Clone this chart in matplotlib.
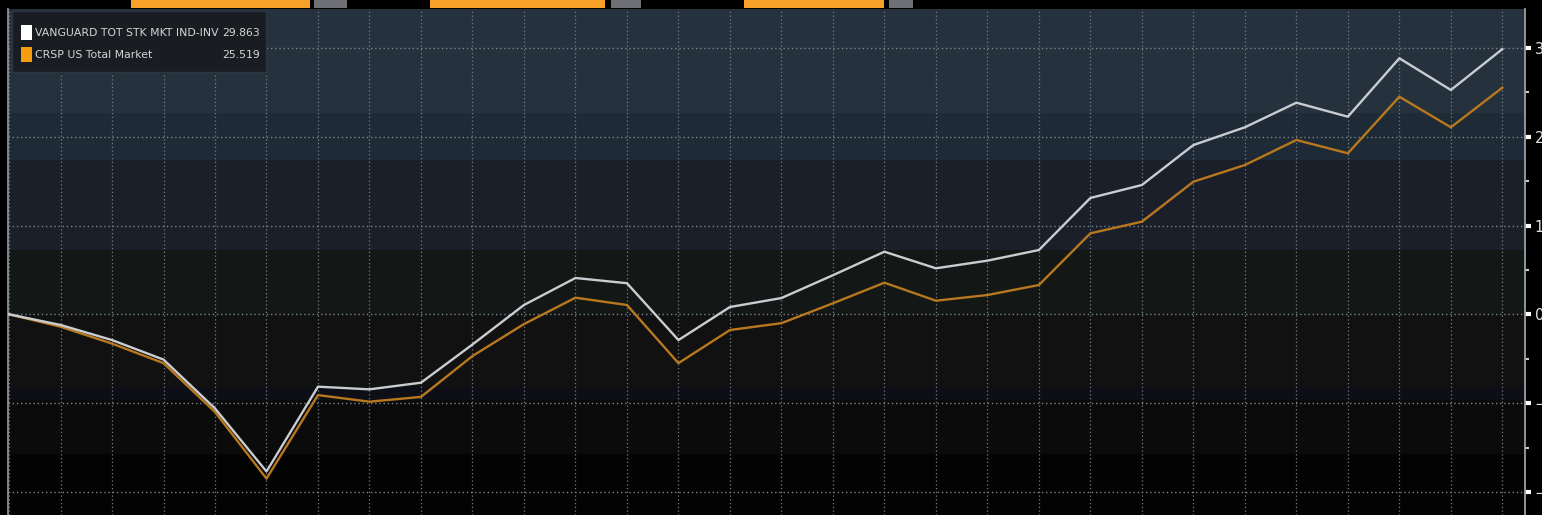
import matplotlib
matplotlib.use("Agg")
import matplotlib.pyplot as plt
from matplotlib.patches import Rectangle
from matplotlib.ticker import MultipleLocator

# cumulative total return (%) per period
periods = list(range(30))
vanguard = [0, -1.2, -2.9, -5.1, -10.6, -17.7, -8.15, -8.45, -7.7, -3.4,
            1.05, 4.09, 3.5, -2.9, 0.82, 1.83, 4.4, 7.05, 5.18, 6.04,
            7.24, 13.1, 14.56, 19.06, 21.06, 23.83, 22.25, 28.83, 25.26, 29.863]
crsp = [0, -1.4, -3.3, -5.5, -11.0, -18.5, -9.1, -9.84, -9.3, -4.7,
        -1.1, 1.87, 1.05, -5.5, -1.77, -1.0, 1.24, 3.56, 1.53, 2.17,
        3.3, 9.12, 10.43, 14.93, 16.81, 19.63, 18.13, 24.5, 21.06, 25.519]
series_names = ["VANGUARD TOT STK MKT IND-INV", "CRSP US Total Market"]

W, H = 1542, 515

# background shading bands (top, bottom, colour) in y units
bands = [(34.4, 22.7, "#25323d"), (22.7, 17.4, "#1e2a35"), (17.4, 7.2, "#1a1f29"),
         (7.2, 0.0, "#131817"), (0.0, -8.2, "#111111"), (-8.2, -9.7, "#0e0e17"),
         (-9.7, -15.7, "#0b0b0b"), (-15.7, -22.7, "#030303")]


def fx(px):
    return px / W


def fy(py):
    return 1 - py / H


fig = plt.figure(figsize=(W / 100, H / 100), dpi=100, facecolor="black")
ax = fig.add_axes([fx(8), 0, fx(1525 - 8), 1 - 9 / H])
ax.set_facecolor("black")

for top, bot, col in bands:
    ax.axhspan(bot, top, color=col, lw=0, zorder=0)

ax.plot(periods, crsp, color="#b8781e", lw=1.7, zorder=3)
ax.plot(periods, vanguard, color="#c9cdd1", lw=1.7, zorder=4)

ax.set_xlim(-0.02, 29.44)
ax.set_ylim(-22.6, 34.38)

ax.set_xticks(periods)
ax.tick_params(axis="x", length=0, labelbottom=False)
ax.xaxis.grid(True, color="#737d85", linestyle=(0, (1, 2)), lw=0.9, zorder=1)
ax.yaxis.grid(True, which="major", color="#7a848c", linestyle=(0, (1, 2)), lw=1.0, zorder=1)

ax.yaxis.tick_right()
ax.yaxis.set_major_locator(MultipleLocator(10))
ax.yaxis.set_minor_locator(MultipleLocator(5))
ax.tick_params(axis="y", which="major", length=4, width=3, color="white",
               labelcolor="#e0e0e0", labelsize=10.5, pad=3)
ax.tick_params(axis="y", which="minor", length=3, width=1.5, color="#cccccc")

for s in ["top", "bottom"]:
    ax.spines[s].set_visible(False)
ax.spines["right"].set_color("#9aa0a6")
ax.spines["right"].set_linewidth(1.3)
ax.spines["left"].set_color("#8a9096")
ax.spines["left"].set_linewidth(1.3)

# toolbar strip across the top
for x0, x1, col in [(131, 310, "#f7a128"), (430, 605, "#f7a128"), (744, 884, "#f7a128"),
                    (314, 347, "#6f7075"), (611, 641, "#6f7075"), (889, 913, "#6f7075")]:
    fig.patches.append(Rectangle((fx(x0), fy(8)), fx(x1 - x0), 8 / H,
                                 transform=fig.transFigure, color=col, lw=0))

# legend box with last values
fig.patches.append(Rectangle((fx(12), fy(72)), fx(254), 61 / H, transform=fig.transFigure,
                             facecolor="#191d21", edgecolor="#2c3640", lw=1, zorder=5))
legend_rows = [(series_names[0], vanguard[-1], "white", 33),
               (series_names[1], crsp[-1], "#f59d0e", 55)]
for name, val, col, yc in legend_rows:
    fig.patches.append(Rectangle((fx(20.5), fy(yc + 7)), fx(11.5), 15 / H,
                                 transform=fig.transFigure, color=col, lw=0, zorder=6))
    fig.text(fx(35), fy(yc), name, color="#d4d4d4", fontsize=7.8,
             va="center", ha="left", zorder=7)
    fig.text(fx(260), fy(yc), f"{val:.3f}", color="#d4d4d4", fontsize=7.8,
             va="center", ha="right", zorder=7)

fig.savefig("out.png", dpi=100, facecolor="black")
